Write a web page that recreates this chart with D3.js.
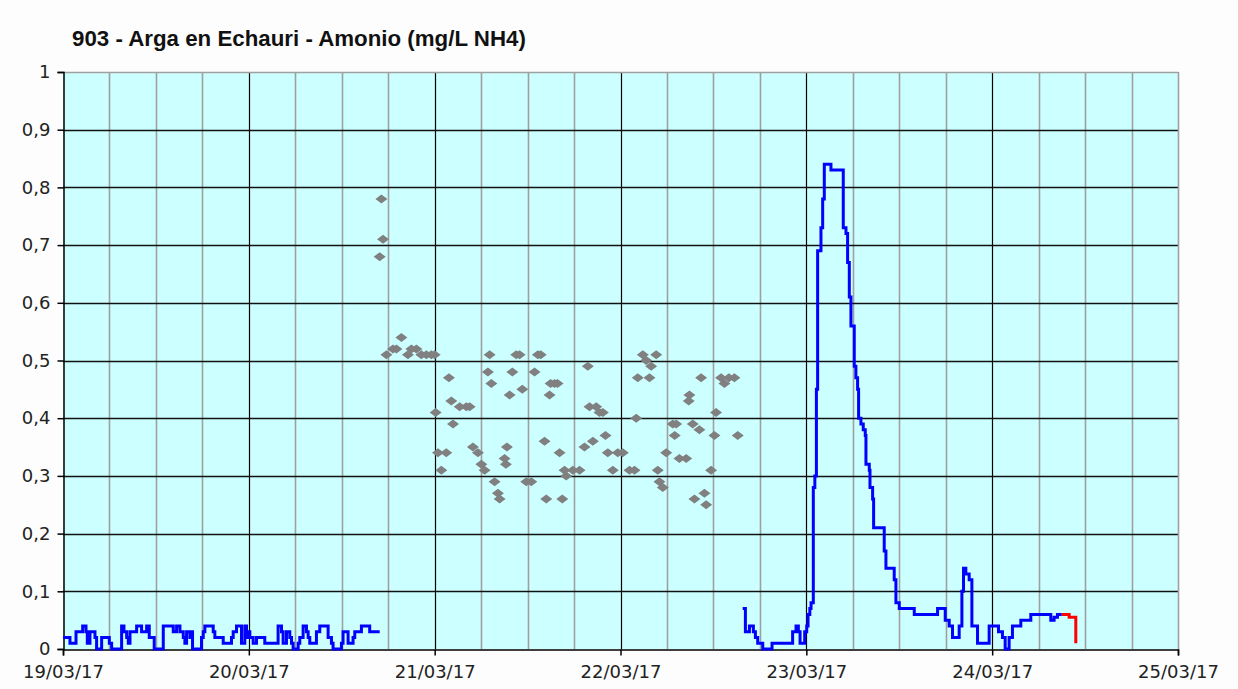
<!DOCTYPE html>
<html><head><meta charset="utf-8">
<script src="https://cdn.jsdelivr.net/npm/d3@7"></script>
<style>html,body{margin:0;padding:0;background:#fdfdfd;}svg{display:block;}</style>
</head><body>
<svg id="chart" width="1238" height="689"></svg>
<script>
const chartTitle = "903 - Arga en Echauri - Amonio (mg/L NH4)";
const xTickLabels = ["19/03/17","20/03/17","21/03/17","22/03/17","23/03/17","24/03/17","25/03/17"];
const yTicks = [0,0.1,0.2,0.3,0.4,0.5,0.6,0.7,0.8,0.9,1];
// [hours since 19/03/17 00:00, mg/L]
const blueSeries1 = [[0,0.02],[0.7,0.02],[0.9,0.01],[1.55,0.01],[1.68,0.03],[2.19,0.03],[2.54,0.04],[2.97,0.03],[3.14,0.01],[3.48,0.03],[4.13,0.02],[4.34,0],[4.77,0],[4.99,0.02],[5.63,0.02],[5.98,0.01],[6.28,0],[7.35,0],[7.57,0.04],[7.87,0.03],[8.22,0.02],[8.43,0.01],[8.65,0.03],[9.08,0.03],[9.51,0.04],[9.94,0.04],[10.15,0.03],[10.37,0.03],[10.8,0.04],[11.14,0.02],[11.57,0.02],[11.78,0],[12.73,0],[12.95,0.04],[14.02,0.04],[14.24,0.03],[14.67,0.04],[15.1,0.03],[15.53,0.02],[15.74,0.01],[15.96,0.03],[16.39,0.02],[16.6,0.03],[16.73,0],[17.68,0],[17.89,0.02],[18.11,0.03],[18.32,0.04],[19.18,0.04],[19.4,0.03],[19.61,0.02],[20.47,0.02],[20.69,0.01],[21.55,0.01],[21.76,0.02],[21.98,0.03],[22.41,0.04],[22.84,0.04],[23.05,0.01],[23.48,0.04],[23.7,0.02],[23.91,0.03],[24.13,0.02],[24.56,0.01],[24.99,0.02],[25.85,0.02],[26.06,0.01],[27.57,0.01],[27.78,0.04],[28.22,0.03],[28.43,0.01],[28.86,0.03],[29.29,0.02],[29.51,0.01],[29.72,0],[30.15,0],[30.37,0.01],[30.58,0.02],[31.01,0.04],[31.44,0.03],[31.66,0.02],[31.87,0.01],[32.52,0.01],[32.73,0.03],[33.16,0.04],[33.81,0.04],[34.24,0.02],[34.67,0.01],[34.88,0],[35.53,0],[35.96,0.01],[36.17,0.03],[36.6,0.03],[36.82,0.01],[37.25,0.01],[37.46,0.02],[37.68,0.03],[38.11,0.03],[38.54,0.04],[39.18,0.04],[39.61,0.03],[40.9,0.03]];
const blueSeries2 = [[87.78,0.07],[88.0,0.07],[88.13,0.03],[88.65,0.04],[88.99,0.04],[89.16,0.03],[89.42,0.02],[89.72,0.01],[90.15,0.01],[90.37,0],[91.23,0],[91.57,0.01],[93.81,0.01],[94.23,0.03],[94.67,0.04],[94.97,0.03],[95.19,0.01],[95.61,0.01],[95.79,0.03],[96.05,0.04],[96.22,0.06],[96.45,0.07],[96.61,0.08],[96.9,0.28],[97.1,0.3],[97.3,0.45],[97.46,0.69],[97.89,0.73],[98.11,0.78],[98.32,0.84],[98.97,0.84],[99.18,0.83],[100.69,0.83],[100.77,0.73],[101.12,0.72],[101.33,0.67],[101.55,0.61],[101.76,0.56],[102.19,0.49],[102.4,0.47],[102.62,0.45],[102.75,0.40],[103.05,0.39],[103.35,0.38],[103.61,0.37],[103.70,0.32],[104.13,0.31],[104.22,0.28],[104.56,0.26],[104.69,0.21],[105.85,0.21],[106.06,0.17],[106.28,0.14],[107.14,0.14],[107.35,0.12],[107.57,0.08],[108.0,0.07],[109.72,0.07],[109.94,0.06],[112.73,0.06],[112.95,0.07],[113.68,0.07],[113.94,0.05],[114.45,0.04],[114.88,0.02],[115.39,0.02],[115.74,0.04],[116.09,0.10],[116.30,0.14],[116.60,0.13],[117.03,0.12],[117.38,0.04],[117.89,0.04],[118.11,0.01],[119.19,0.01],[119.61,0.04],[120.04,0.04],[120.48,0.04],[120.82,0.03],[121.33,0.02],[121.68,0],[121.98,0],[122.19,0.02],[122.62,0.04],[123.06,0.04],[123.70,0.05],[124.56,0.05],[124.99,0.06],[127.35,0.06],[127.57,0.05],[128.0,0.055],[128.43,0.06],[128.99,0.06]];
const redSeries = [[128.99,0.06],[129.72,0.06],[129.94,0.055],[130.58,0.055],[130.80,0.01]];
const grayPoints = [[41.12,0.78],[41.33,0.71],[40.90,0.68],[43.70,0.54],[41.77,0.51],[42.62,0.52],[43.06,0.52],[44.55,0.51],[44.99,0.52],[45.64,0.52],[46.28,0.51],[46.93,0.51],[47.57,0.51],[48.0,0.51],[48.13,0.41],[48.43,0.34],[48.86,0.31],[49.50,0.34],[49.84,0.47],[50.15,0.43],[50.37,0.39],[51.23,0.42],[52.09,0.42],[52.52,0.42],[52.94,0.35],[53.59,0.34],[54.03,0.32],[54.45,0.31],[54.88,0.48],[55.10,0.51],[55.32,0.46],[55.74,0.29],[56.17,0.27],[56.39,0.26],[57.03,0.33],[57.2,0.32],[57.33,0.35],[57.68,0.44],[58.03,0.48],[58.54,0.51],[58.97,0.51],[59.32,0.45],[59.83,0.29],[60.48,0.29],[60.90,0.48],[61.33,0.51],[61.7,0.51],[62.19,0.36],[62.41,0.26],[62.84,0.44],[62.97,0.46],[63.48,0.46],[63.87,0.46],[64.13,0.34],[64.48,0.26],[64.77,0.31],[64.99,0.30],[65.85,0.31],[66.71,0.31],[67.35,0.35],[67.78,0.49],[68.0,0.42],[68.43,0.36],[68.86,0.42],[69.29,0.41],[69.72,0.41],[70.06,0.37],[70.36,0.34],[71.01,0.31],[71.65,0.34],[72.30,0.34],[73.16,0.31],[73.81,0.31],[74.03,0.40],[74.23,0.47],[74.88,0.51],[75.32,0.50],[75.74,0.47],[75.96,0.49],[76.61,0.51],[76.81,0.31],[77.03,0.29],[77.46,0.28],[77.90,0.34],[78.75,0.39],[79.19,0.39],[79.0,0.37],[79.61,0.33],[80.48,0.33],[80.81,0.43],[80.90,0.44],[81.33,0.39],[81.55,0.26],[82.19,0.38],[82.41,0.47],[82.84,0.27],[83.06,0.25],[83.70,0.31],[84.13,0.37],[84.34,0.41],[84.99,0.47],[85.42,0.46],[86.0,0.47],[86.71,0.47],[87.14,0.37]];

const W = 1238, H = 689;
const m = {left: 63, right: 1178, top: 72, bottom: 649};
const base = new Date(2017, 2, 19);
const toDate = h => new Date(base.getTime() + h * 3600e3);
const svg = d3.select("#chart");
svg.append("rect").attr("width", W).attr("height", H).attr("fill", "#fdfdfd");

const x = d3.scaleTime().domain([base, toDate(144)]).range([m.left, m.right]);
const y = d3.scaleLinear().domain([0, 1]).range([m.bottom, m.top]);

svg.append("rect").attr("x", m.left).attr("y", m.top).attr("width", m.right - m.left).attr("height", m.bottom - m.top).attr("fill", "#ccffff");

// vertical grid every 6h
const g = svg.append("g");
for (let h = 6; h < 144; h += 6) {
  const xx = Math.round(x(toDate(h))) + 0.5;
  g.append("line").attr("x1", xx).attr("x2", xx).attr("y1", m.top).attr("y2", m.bottom)
    .attr("stroke", h % 24 === 0 ? "#000" : "#a0a0a0").attr("stroke-width", h % 24 === 0 ? 1.2 : 1.6);
}
// horizontal grid
yTicks.forEach(v => {
  if (v === 0 || v === 1) return;
  const yy = Math.round(y(v)) + 0.5;
  g.append("line").attr("x1", m.left).attr("x2", m.right).attr("y1", yy).attr("y2", yy).attr("stroke", "#111").attr("stroke-width", 1.3);
});
// top & right border
svg.append("line").attr("x1", m.left).attr("x2", m.right + 0.5).attr("y1", m.top + 0.5).attr("y2", m.top + 0.5).attr("stroke", "#a0a0a0").attr("stroke-width", 1.6);
svg.append("line").attr("x1", m.right + 0.5).attr("x2", m.right + 0.5).attr("y1", m.top).attr("y2", m.bottom).attr("stroke", "#a0a0a0").attr("stroke-width", 1.6);

// axes
const yAxis = d3.axisLeft(y).tickValues(yTicks).tickSize(6).tickPadding(8)
  .tickFormat(d => d3.format(".1f")(d).replace(/\.0$/, "").replace(".", ","));
const ya = svg.append("g").attr("transform", `translate(${m.left + 0.5},0)`).call(yAxis);
ya.select(".domain").attr("stroke", "#000").attr("stroke-width", 1.5);
ya.selectAll(".tick line").attr("stroke", "#000").attr("stroke-width", 1.5);
ya.selectAll("text").attr("font-family", "DejaVu Sans, Verdana, sans-serif").attr("font-size", 18).attr("fill", "#222").attr("x", -13);

const xAxis = d3.axisBottom(x).tickValues(xTickLabels.map((_, i) => toDate(i * 24))).tickSize(6).tickPadding(10)
  .tickFormat((d, i) => xTickLabels[i]);
const xa = svg.append("g").attr("transform", `translate(0,${m.bottom + 0.5})`).call(xAxis);
xa.select(".domain").attr("stroke", "#000").attr("stroke-width", 1.5);
xa.selectAll(".tick line").attr("stroke", "#000").attr("stroke-width", 1.5);
xa.selectAll("text").attr("font-family", "DejaVu Sans, Verdana, sans-serif").attr("font-size", 18).attr("fill", "#222");

// lines
const line = d3.line().x(d => x(toDate(d[0]))).y(d => y(d[1])).curve(d3.curveStepAfter);
const plot = svg.append("g");
[[blueSeries1, "#0000ff"], [blueSeries2, "#0000ff"], [redSeries, "#ff0000"]].forEach(([data, col]) => {
  plot.append("path").datum(data).attr("d", line).attr("fill", "none").attr("stroke", col).attr("stroke-width", 3).attr("stroke-linejoin", "miter");
});
// gray diamonds
plot.selectAll("path.pt").data(grayPoints).enter().append("path").attr("class", "pt")
  .attr("d", d => { const cx = x(toDate(d[0])), cy = y(d[1]); return `M${cx - 6},${cy}L${cx},${cy - 4.5}L${cx + 6},${cy}L${cx},${cy + 4.5}Z`; })
  .attr("fill", "#808080");

svg.append("text").attr("x", 72).attr("y", 46).attr("font-family", "Liberation Sans, Arial, sans-serif").attr("font-weight", "bold").attr("font-size", 22.3).attr("fill", "#111").text(chartTitle);
</script>
</body></html>
